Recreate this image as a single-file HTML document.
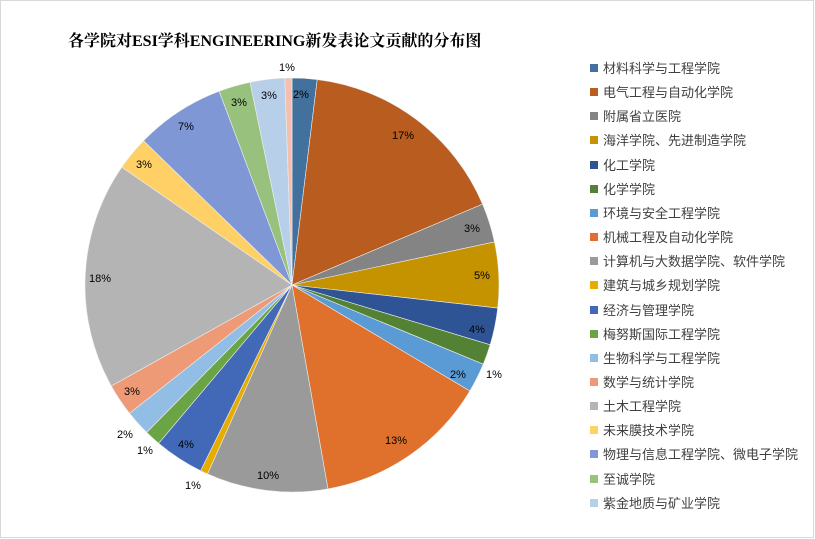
<!DOCTYPE html>
<html><head><meta charset="utf-8"><style>
body{margin:0;background:#fff;}
#c{position:relative;width:815px;height:539px;overflow:hidden;font-family:"Liberation Sans","Noto Sans CJK SC",sans-serif;}
#frame{position:absolute;left:0;top:0;width:812px;height:536px;border:1px solid #d9d9d9;}
.t{position:absolute;left:68px;top:28px;font-size:16px;font-weight:bold;color:#000;font-family:"Liberation Serif","Noto Serif CJK SC",serif;}
.lg{position:absolute;left:590px;font-size:13px;color:#404040;line-height:16px;white-space:nowrap;}
.lg i{display:inline-block;width:8px;height:8px;margin-right:5px;vertical-align:1px;}
.lb{position:absolute;font-size:11px;color:#000;transform:translate(-50%,-50%);}
</style></head><body><div id="c"><div id="frame"></div>
<div class="t">各学院对ESI学科ENGINEERING新发表论文贡献的分布图</div>
<svg id="s" width="815" height="539" style="position:absolute;left:0;top:0"></svg>
<div id="L"></div>
</div>
<script>
var names=["材料科学与工程学院","电气工程与自动化学院","附属省立医院","海洋学院、先进制造学院","化工学院","化学学院","环境与安全工程学院","机械工程及自动化学院","计算机与大数据学院、软件学院","建筑与城乡规划学院","经济与管理学院","梅努斯国际工程学院","生物科学与工程学院","数学与统计学院","土木工程学院","未来膜技术学院","物理与信息工程学院、微电子学院","至诚学院","紫金地质与矿业学院"];
var cols=["#41719C","#B85C20","#848484","#C59200","#2F5496","#548235","#5B9BD5","#E0712C","#9A9A9A","#E6AC00","#4169B8","#6AA444","#92BDE4","#EE9A76","#B4B4B4","#FFD066","#7F97D4","#98C17E","#B8CFEA","#F4BFB0"];
var ends=[7,67,78,96.4,106.8,112.5,120.8,170,204.1,206.2,220.1,224.6,231.7,240.8,304.7,314.2,339.4,348.3,358,360];
var cx=292,cy=285,r=207,s="",a0=0;
function pt(a){var t=a*Math.PI/180;return [cx+r*Math.sin(t),cy-r*Math.cos(t)];}
for(var i=0;i<ends.length;i++){var p=pt(a0),q=pt(ends[i]);var lg=ends[i]-a0>180?1:0;
s+='<path d="M'+cx+','+cy+'L'+p[0].toFixed(2)+','+p[1].toFixed(2)+'A'+r+','+r+' 0 '+lg+' 1 '+q[0].toFixed(2)+','+q[1].toFixed(2)+'Z" fill="'+cols[i]+'" stroke="#eeeeee" stroke-width="0.6"/>';a0=ends[i];}
document.getElementById('s').innerHTML=s;
var h="";for(var i=0;i<names.length;i++){h+='<div class="lg" style="top:'+(61+i*24.15)+'px"><i style="background:'+cols[i]+'"></i>'+names[i]+'</div>';}
var labs=[[301,95,"2%"],[403,136,"17%"],[472,229,"3%"],[482,276,"5%"],[477,330,"4%"],[494,375,"1%"],[458,375,"2%"],[396,441,"13%"],[268,476,"10%"],[193,486,"1%"],[186,445,"4%"],[145,451,"1%"],[125,435,"2%"],[132,392,"3%"],[100,279,"18%"],[144,165,"3%"],[186,127,"7%"],[239,103,"3%"],[269,96,"3%"],[287,68,"1%"]];
for(var j=0;j<labs.length;j++){h+='<div class="lb" style="left:'+labs[j][0]+'px;top:'+labs[j][1]+'px">'+labs[j][2]+'</div>';}
document.getElementById('L').innerHTML=h;
</script></body></html>
